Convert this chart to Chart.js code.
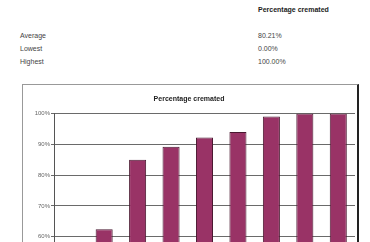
<!DOCTYPE html>
<html>
<head>
<meta charset="utf-8">
<script src="https://cdn.jsdelivr.net/npm/chart.js@4.4.1/dist/chart.umd.min.js"></script>
<style>
  html, body { margin: 0; padding: 0; width: 370px; height: 242px; overflow: hidden; background: #fff; }
  body { position: relative; font-family: "Liberation Sans", Arial, sans-serif; color: #444; }
  .t { position: absolute; font-size: 7px; line-height: 8px; white-space: nowrap; }
  .b { font-weight: bold; color: #222; }
  #box { position: absolute; left: 22px; top: 84px; width: 334px; height: 357px;
         border: 1px solid #999; border-right: 2px solid #222; }
  #wrap { position: relative; width: 334px; height: 357px; }
</style>
</head>
<body>
<div class="t b" style="left:258px; top:6px;">Percentage cremated</div>
<div class="t" style="left:20px; top:32px;">Average</div>
<div class="t" style="left:258px; top:32px;">80.21%</div>
<div class="t" style="left:20px; top:45px;">Lowest</div>
<div class="t" style="left:258px; top:45px;">0.00%</div>
<div class="t" style="left:20px; top:58px;">Highest</div>
<div class="t" style="left:258px; top:58px;">100.00%</div>

<div id="box"><div id="wrap"><canvas id="cremChart"></canvas></div></div>

<script>
const categories = ["1", "2", "3", "4", "5", "6", "7", "8", "9"];
const percentCremated = [0, 62.5, 85, 89.2, 92.2, 94, 99, 100, 100];
const yTicks = [0, 10, 20, 30, 40, 50, 60, 70, 80, 90, 100];

document.addEventListener("DOMContentLoaded", function () {
    const ctx = document.getElementById("cremChart").getContext("2d");
    new Chart(ctx, {
        type: "bar",
        data: {
            labels: categories,
            datasets: [{
                label: "Percentage cremated",
                data: percentCremated,
                backgroundColor: "#993366",
                borderColor: "#4a1830",
                borderWidth: 1,
                categoryPercentage: 1,
                barPercentage: 0.51
            }]
        },
        options: {
            responsive: true,
            maintainAspectRatio: false,
            animation: false,
            layout: { padding: { left: 0, right: 2, top: 0, bottom: 0 } },
            plugins: {
                legend: { display: false },
                tooltip: { enabled: false },
                title: {
                    display: true,
                    text: "Percentage cremated",
                    color: "#222",
                    font: { family: "Liberation Sans", size: 7, weight: "bold", lineHeight: 1.2 },
                    padding: { top: 10, bottom: 10 }
                }
            },
            scales: {
                x: {
                    grid: { display: false },
                    border: { color: "#555" },
                    ticks: { color: "#555", font: { family: "Liberation Sans", size: 6 } },
                    afterFit: scale => { scale.height = 20; }
                },
                y: {
                    min: 0,
                    max: 100,
                    afterBuildTicks: scale => { scale.ticks = yTicks.map(v => ({ value: v })); },
                    grid: { color: "#6a6a6a", lineWidth: 1, tickLength: 3 },
                    border: { color: "#555" },
                    ticks: {
                        color: "#666",
                        padding: 1,
                        font: { family: "Liberation Sans", size: 6 },
                        callback: value => value + "%"
                    },
                    afterFit: scale => { scale.width = 31; }
                }
            }
        }
    });
});
</script>
</body>
</html>
